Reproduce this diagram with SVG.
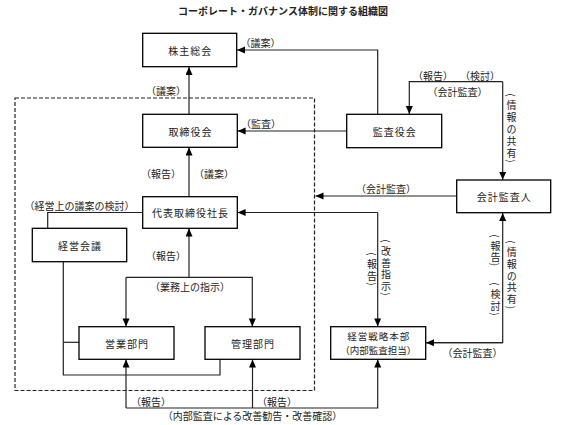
<svg xmlns="http://www.w3.org/2000/svg" width="567" height="425" viewBox="0 0 567 425">
<style>
text{font-family:"Noto Sans CJK JP","Noto Sans CJK SC",sans-serif;fill:#222;dominant-baseline:central}
.t{font-size:10px;font-weight:bold;text-anchor:middle}
.b{font-size:10px;text-anchor:middle;letter-spacing:1px}
.l{font-size:10px;text-anchor:middle}
.v text{font-size:10px;text-anchor:middle}
.box{fill:#fff;stroke:#000;stroke-width:1.3}
.c{fill:none;stroke:#222;stroke-width:1.2}
.d{fill:none;stroke:#222;stroke-width:1.2;stroke-dasharray:4 2}
</style>
<defs>
<marker id="a" markerUnits="userSpaceOnUse" markerWidth="9" markerHeight="8" refX="8" refY="3.5" orient="auto">
<path d="M0,0 L8,3.5 L0,7 z" fill="#000"/>
</marker>
</defs>
<rect width="567" height="425" fill="#fff"/>
<text class="t" x="283" y="10">コーポレート・ガバナンス体制に関する組織図</text>

<rect id="internal-area" class="d" x="15" y="98" width="299.5" height="292.5"/>

<g id="connectors">
<path class="c" d="M189,114.3 V67" marker-end="url(#a)"/>
<path class="c" d="M377.7,114.3 V50 H237" marker-end="url(#a)"/>
<path class="c" d="M346.7,131 H237.6" marker-end="url(#a)"/>
<path class="c" d="M189,196.7 V147.6" marker-end="url(#a)"/>
<path class="c" d="M142.7,212.5 H47.7 V228.3"/>
<path class="c" d="M377.7,212.5 H237.6" marker-end="url(#a)"/>
<path class="c" d="M377.7,212.5 V326.4" marker-end="url(#a)"/>
<path class="c" d="M456.7,196 H315.5" marker-end="url(#a)"/>
<path class="c" d="M502.7,81.7 H409.3 V114" marker-end="url(#a)"/>
<path class="c" d="M502.7,81.7 V179.7" marker-end="url(#a)"/>
<path class="c" d="M425.7,342.7 H502.7 V213" marker-end="url(#a)"/>
<path class="c" d="M502.7,342.7 H426" marker-end="url(#a)"/>
<path class="c" d="M189,277.3 V228.6" marker-end="url(#a)"/>
<path class="c" d="M126,277.3 H252.3 V326.4" marker-end="url(#a)"/>
<path class="c" d="M126,277.3 V326.4" marker-end="url(#a)"/>
<path class="c" d="M63.3,261.7 V375 H220 V359.3"/>
<path class="c" d="M63.3,342.3 H79"/>
<path class="c" d="M126,408 V359.6" marker-end="url(#a)"/>
<path class="c" d="M252.5,408 V359.6" marker-end="url(#a)"/>
<path class="c" d="M126,408 H377.7 V359.6" marker-end="url(#a)"/>
</g>

<g id="labels">
<text class="l" x="260.5" y="42">（議案）</text>
<text class="l" x="166" y="90">（議案）</text>
<text class="l" x="261" y="123">（監査）</text>
<text class="l" x="161" y="173">（報告）</text>
<text class="l" x="214" y="173">（議案）</text>
<text class="l" x="79.5" y="205">（経営上の議案の検討）</text>
<text class="l" x="166" y="255">（報告）</text>
<text class="l" x="190" y="286">（業務上の指示）</text>
<text class="l" x="151" y="401">（報告）</text>
<text class="l" x="277" y="401">（報告）</text>
<text class="l" x="252.5" y="415">（内部監査による改善勧告・改善確認）</text>
<text class="l" x="433" y="75">（報告）</text>
<text class="l" x="480" y="75">（検討）</text>
<text class="l" x="457.5" y="91">（会計監査）</text>
<text class="l" x="386" y="188.5">（会計監査）</text>
<text class="l" x="472.5" y="352">（会計監査）</text>

<g class="v" id="v-info-top">
<text x="511.5" y="95" transform="rotate(90 511.5 95)">(</text>
<text x="511.5" y="104">情</text><text x="511.5" y="116">報</text><text x="511.5" y="128">の</text><text x="511.5" y="140">共</text><text x="511.5" y="152">有</text>
<text x="511.5" y="161" transform="rotate(90 511.5 161)">)</text>
</g>
<g class="v" id="v-report-mid">
<text x="372" y="254" transform="rotate(90 372 254)">(</text>
<text x="372" y="263.5">報</text><text x="372" y="275">告</text>
<text x="372" y="284" transform="rotate(90 372 284)">)</text>
</g>
<g class="v" id="v-improve">
<text x="386" y="241" transform="rotate(90 386 241)">(</text>
<text x="386" y="250.5">改</text><text x="386" y="262">善</text><text x="386" y="273.5">指</text><text x="386" y="285">示</text>
<text x="386" y="294" transform="rotate(90 386 294)">)</text>
</g>
<g class="v" id="v-report-right">
<text x="495.5" y="236" transform="rotate(90 495.5 236)">(</text>
<text x="495.5" y="245.5">報</text><text x="495.5" y="256">告</text>
<text x="495.5" y="264.5" transform="rotate(90 495.5 264.5)">)</text>
</g>
<g class="v" id="v-review-right">
<text x="495.5" y="284" transform="rotate(90 495.5 284)">(</text>
<text x="495.5" y="293.5">検</text><text x="495.5" y="305">討</text>
<text x="495.5" y="314" transform="rotate(90 495.5 314)">)</text>
</g>
<g class="v" id="v-info-bottom">
<text x="511.7" y="242" transform="rotate(90 511.7 242)">(</text>
<text x="511.7" y="251.5">情</text><text x="511.7" y="263">報</text><text x="511.7" y="275">の</text><text x="511.7" y="286.5">共</text><text x="511.7" y="298">有</text>
<text x="511.7" y="307.5" transform="rotate(90 511.7 307.5)">)</text>
</g>
</g>

<g id="n-shareholders"><rect class="box" x="142.7" y="33.3" width="94" height="33.4"/><text class="b" x="190.2" y="50">株主総会</text></g>
<g id="n-board"><rect class="box" x="142.7" y="114.3" width="94.6" height="33"/><text class="b" x="190.5" y="131">取締役会</text></g>
<g id="n-president"><rect class="box" x="142.7" y="196.7" width="94.6" height="31.6"/><text class="b" x="190.5" y="212.5">代表取締役社長</text></g>
<g id="n-mgmt-meeting"><rect class="box" x="32.3" y="228.3" width="94.4" height="33.4"/><text class="b" x="80" y="245">経営会議</text></g>
<g id="n-sales"><rect class="box" x="79" y="326.7" width="95" height="32.6"/><text class="b" x="127" y="343">営業部門</text></g>
<g id="n-admin"><rect class="box" x="205" y="326.7" width="95" height="32.6"/><text class="b" x="253" y="343">管理部門</text></g>
<g id="n-auditors"><rect class="box" x="346.7" y="114.3" width="95" height="33.4"/><text class="b" x="394.7" y="131">監査役会</text></g>
<g id="n-accountant"><rect class="box" x="456.7" y="180" width="94" height="32.7"/><text class="b" x="504.2" y="196">会計監査人</text></g>
<g id="n-strategy"><rect class="box" x="330.7" y="326.7" width="95" height="32.6"/><text class="b" x="378.7" y="336" style="font-size:9.5px">経営戦略本部</text><text class="l" x="378.2" y="350" style="font-size:9.5px">（内部監査担当）</text></g>
</svg>
